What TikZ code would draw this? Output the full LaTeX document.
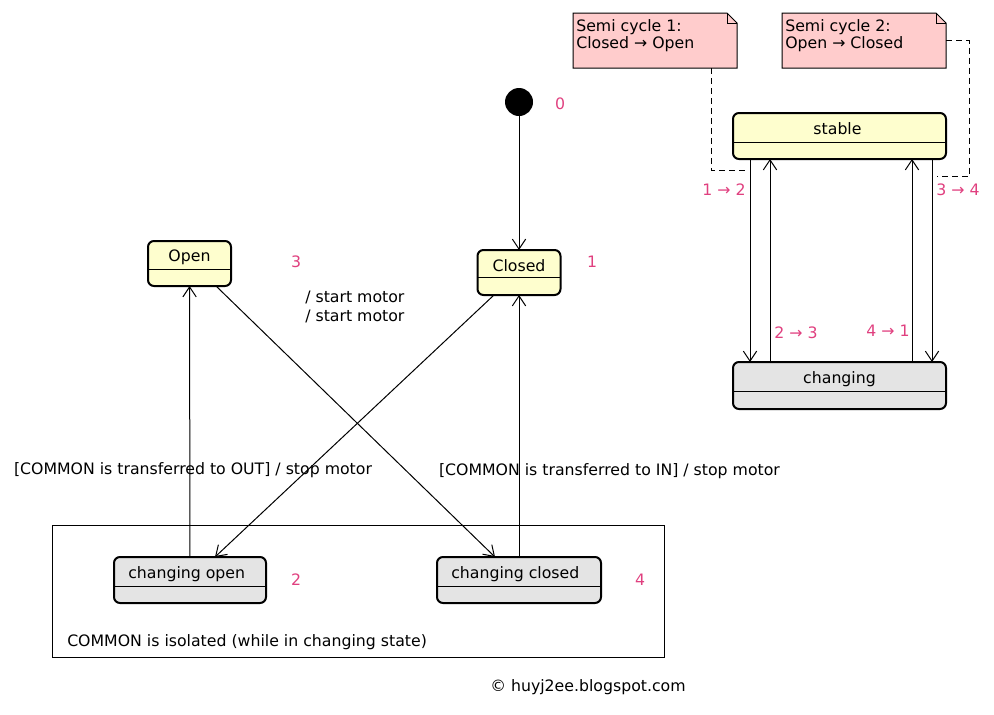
\documentclass[tikz,border=0pt]{standalone}
\usepackage{fontspec}
\setmainfont{DejaVu Sans}
\usetikzlibrary{arrows.meta,calc}
\definecolor{stateyellow}{HTML}{FEFECE}
\definecolor{stategray}{HTML}{E4E4E4}
\definecolor{notepink}{HTML}{FFCCCC}
\definecolor{numpink}{HTML}{E0407F}
\tikzset{
  every node/.style={font=\fontsize{11.8pt}{12.75pt}\selectfont},
  lbl/.style={inner sep=0pt, text height=9pt, text depth=1pt},
  num/.style={lbl, text=numpink},
  statebox/.style={draw, line width=1.5pt, rounded corners=4.5pt, inner sep=0pt, outer sep=0pt},
  yel/.style={statebox, fill=stateyellow},
  gry/.style={statebox, fill=stategray},
  divider/.style={line width=0.75pt},
  arr/.style={line width=0.75pt, -{Straight Barb[length=7.5pt,width=10pt]}},
  notebox/.style={inner sep=0pt, outer sep=0pt, minimum width={164*0.75pt}, minimum height={55*0.75pt}},
  noteline/.style={draw, fill=notepink, line width=0.75pt},
  dashedline/.style={line width=0.75pt, dash pattern=on 4.5pt off 3pt},
}
\begin{document}
\begin{tikzpicture}[x=0.75pt, y=-0.75pt]
\useasboundingbox (0,0) rectangle (994,714);

% container
\node[draw, line width=0.75pt, inner sep=0pt, minimum width={612*0.75pt}, minimum height={132*0.75pt}] (container) at (358,591) {};
\node[lbl, anchor=west] (containert) at (67,641) {COMMON is isolated (while in changing state)};

% initial
\node[circle, fill=black, inner sep=0pt, minimum size={28*0.75pt}] (init) at (519,102) {};
\node[num] (n0) at (560,104) {0};

% Closed
\node[yel, minimum width={83*0.75pt}, minimum height={45*0.75pt}] (closed) at (519,272.5) {};
\draw[divider] ($(closed.north west)+(0,27)$) -- ($(closed.north east)+(0,27)$);
\node[lbl] (closedt) at ($(closed.north)+(0,16)$) {Closed};
\node[num] (n1) at (592,262) {1};

% Open
\node[yel, minimum width={83*0.75pt}, minimum height={45*0.75pt}] (open) at (189.5,263.5) {};
\draw[divider] ($(open.north west)+(0,28)$) -- ($(open.north east)+(0,28)$);
\node[lbl] (opent) at ($(open.north)+(0,15)$) {Open};
\node[num] (n3) at (296,262) {3};

% changing open
\node[gry, minimum width={152*0.75pt}, minimum height={46*0.75pt}] (chopen) at (190,580) {};
\draw[divider] ($(chopen.north west)+(0,29)$) -- ($(chopen.north east)+(0,29)$);
\node[lbl, anchor=west] (chopent) at ($(chopen.north west)+(14,16.5)$) {changing open};
\node[num] (n2) at (296,580) {2};

% changing closed
\node[gry, minimum width={164*0.75pt}, minimum height={46*0.75pt}] (chclosed) at (519,580) {};
\draw[divider] ($(chclosed.north west)+(0,29)$) -- ($(chclosed.north east)+(0,29)$);
\node[lbl, anchor=west] (chclosedt) at ($(chclosed.north west)+(14,16.5)$) {changing closed};
\node[num] (n4) at (640,580) {4};

% left transitions
\draw[arr] (init) -- (closed);
\draw[arr] (chopen) -- (open);
\draw[arr] (chclosed) -- (closed);
\draw[arr] ($(closed.south)+(-25,0)$) -- ($(chopen.north)+(25,0)$);
\draw[arr] ($(open.south)+(26.5,0)$) -- ($(chclosed.north)+(-24,0)$);

\node[lbl, anchor=west] (sm1) at (305,297) {/ start motor};
\node[lbl, anchor=west] (sm2) at (305,316) {/ start motor};
\node[lbl] (toout) at (193,469) {[COMMON is transferred to OUT] / stop motor};
\node[lbl] (toin) at (609.5,470) {[COMMON is transferred to IN] / stop motor};

% right part
\node[yel, minimum width={213*0.75pt}, minimum height={46*0.75pt}] (stable) at (839.5,136) {};
\draw[divider] ($(stable.north west)+(0,29)$) -- ($(stable.north east)+(0,29)$);
\node[lbl] (stablet) at ($(stable.north)+(-2,16)$) {stable};

\node[gry, minimum width={213*0.75pt}, minimum height={47*0.75pt}] (changing) at (839.5,385.5) {};
\draw[divider] ($(changing.north west)+(0,29)$) -- ($(changing.north east)+(0,29)$);
\node[lbl] (changingt) at ($(changing.north)+(0,16)$) {changing};

\draw[arr] ($(stable.south west)+(17,0)$) -- ($(changing.north west)+(17,0)$);
\draw[arr] ($(changing.north west)+(37,0)$) -- ($(stable.south west)+(37,0)$);
\draw[arr] ($(changing.north east)+(-34,0)$) -- ($(stable.south east)+(-34,0)$);
\draw[arr] ($(stable.south east)+(-14,0)$) -- ($(changing.north east)+(-14,0)$);

\node[num] (t12) at (724,190) {1 → 2};
\node[num] (t34) at (958,190) {3 → 4};
\node[num] (t23) at (796,333) {2 → 3};
\node[num] (t41) at (888,331) {4 → 1};

% notes
\node[notebox] (note1) at (655,40.5) {};
\draw[noteline] (note1.north west) -- ($(note1.north east)+(-10,0)$) -- ($(note1.north east)+(0,10)$) -- (note1.south east) -- (note1.south west) -- cycle;
\draw[line width=0.75pt] ($(note1.north east)+(-10,0)$) -- ($(note1.north east)+(-10,10)$) -- ($(note1.north east)+(0,10)$);
\node[lbl, anchor=west] (note1a) at (576,26) {Semi cycle 1:};
\node[lbl, anchor=west] (note1b) at (576,43) {Closed → Open};

\node[notebox] (note2) at (864,40.5) {};
\draw[noteline] (note2.north west) -- ($(note2.north east)+(-10,0)$) -- ($(note2.north east)+(0,10)$) -- (note2.south east) -- (note2.south west) -- cycle;
\draw[line width=0.75pt] ($(note2.north east)+(-10,0)$) -- ($(note2.north east)+(-10,10)$) -- ($(note2.north east)+(0,10)$);
\node[lbl, anchor=west] (note2a) at (785,26) {Semi cycle 2:};
\node[lbl, anchor=west] (note2b) at (785,43) {Open → Closed};

\coordinate (c1) at (745,170);
\coordinate (c2) at (937,176);
\draw[dashedline] ($(note1.south west)+(138,0)$) |- (c1);
\draw[dashedline] (note2.east) -- ++(23,0) |- (c2);

\node[lbl] (copy) at (588,686) {© huyj2ee.blogspot.com};
\end{tikzpicture}
\end{document}
